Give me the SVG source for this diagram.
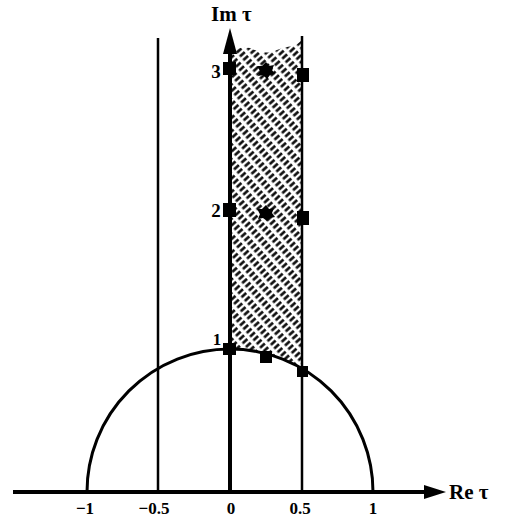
<svg xmlns="http://www.w3.org/2000/svg" width="505" height="518" viewBox="0 0 505 518">
<style>
.ln{stroke:#000;fill:none;stroke-linecap:butt}
.t{font-family:"Liberation Serif","Times New Roman",serif;font-weight:bold;fill:#000}
.mk{fill:#000}
</style>
<defs>
<pattern id="hatch" width="10" height="5" patternUnits="userSpaceOnUse" patternTransform="rotate(-42)">
<line x1="0.5" y1="2.5" x2="7" y2="2.5" stroke="#000" stroke-width="2.5"/>
</pattern>
</defs>
<rect width="505" height="518" fill="#fff"/>
<g id="region">
<path d="M230 52 Q240 46 250 48 Q262 54 272 52 Q285 46 295 46 L302 40 L302 368.45 A143 143 0 0 0 230 349 Z" fill="url(#hatch)"/>
</g>
<g id="connectors">
<line class="ln" x1="158" y1="38" x2="158" y2="492" stroke-width="2.5"/>
<line class="ln" x1="302" y1="36" x2="302" y2="492" stroke-width="2.5"/>
<path class="ln" d="M87 492 A143 143 0 0 1 373 492" stroke-width="3"/>
<line class="ln" x1="13" y1="492" x2="428" y2="492" stroke-width="4"/>
<polygon points="446,492 424,485 424,499" fill="#000"/>
<line class="ln" x1="230" y1="492" x2="230" y2="52" stroke-width="4"/>
<polygon points="230,28 223,54 237,54" fill="#000"/>
</g>
<g id="markers">
<rect class="mk" x="223" y="62" width="13" height="13"/>
<polygon class="mk" points="266,62 269,66 274,65 272,70 275,74 270,75 267,79 263,75 258,76 260,71 257,66 262,66"/>
<rect class="mk" x="297" y="68" width="12" height="14"/>
<rect class="mk" x="223" y="203" width="13" height="14"/>
<polygon class="mk" points="266,205 269,209 274,208 272,213 275,217 270,218 267,221 263,218 258,219 260,214 257,209 262,209"/>
<rect class="mk" x="297" y="211" width="12" height="14"/>
<rect class="mk" x="223" y="343" width="13" height="12"/>
<rect class="mk" x="260" y="351" width="12" height="12"/>
<rect class="mk" x="297" y="366" width="11" height="11"/>
</g>
<g id="labels">
<text class="t" x="211" y="21" font-size="21">Im τ</text>
<text class="t" x="449" y="499" font-size="21">Re τ</text>
<text class="t" x="216" y="78" font-size="19" text-anchor="middle">3</text>
<text class="t" x="216" y="217" font-size="19" text-anchor="middle">2</text>
<text class="t" x="217" y="345" font-size="17" font-weight="normal" text-anchor="middle">1</text>
<text class="t" x="85" y="514" font-size="17" text-anchor="middle">−1</text>
<text class="t" x="154" y="514" font-size="17" text-anchor="middle">−0.5</text>
<text class="t" x="231" y="514" font-size="17" text-anchor="middle">0</text>
<text class="t" x="300" y="514" font-size="17" text-anchor="middle">0.5</text>
<text class="t" x="373" y="514" font-size="17" text-anchor="middle">1</text>
</g>
</svg>
